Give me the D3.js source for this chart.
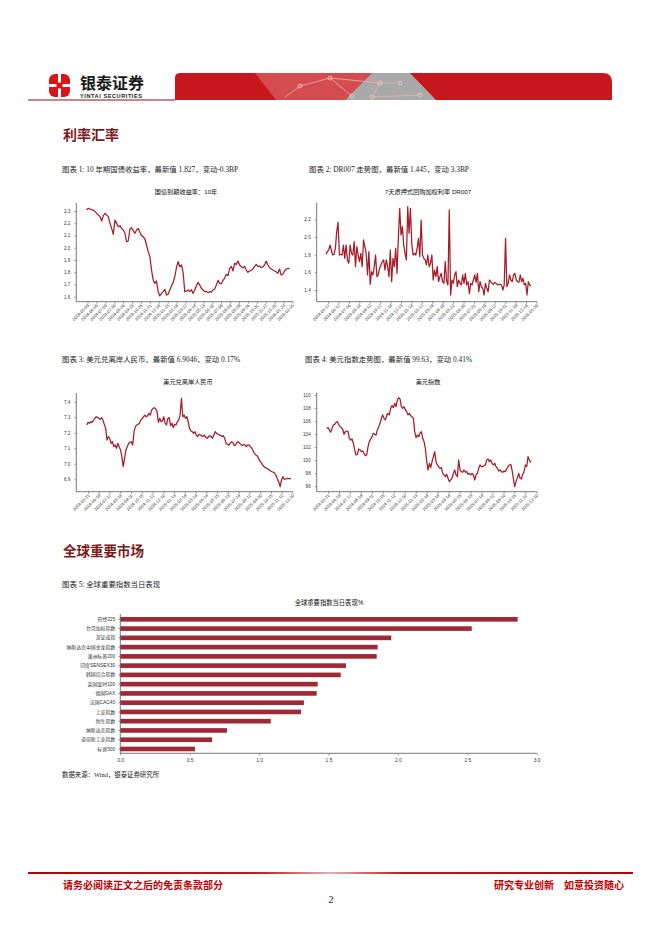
<!DOCTYPE html>
<html><head><meta charset="utf-8">
<script src="https://cdn.jsdelivr.net/npm/d3@7/dist/d3.min.js"></script>
<style>body{margin:0;background:#fff}svg{display:block}</style>
</head><body>
<svg id="page" width="662" height="936"></svg>
<script>
// ---------- DATA ----------
const bond10y = [2.308,2.322,2.316,2.311,2.308,2.295,2.281,2.267,2.254,2.218,
2.262,2.281,2.267,2.254,2.199,2.158,2.109,2.226,2.199,2.172,
2.180,2.158,2.145,2.118,2.049,2.055,2.153,2.164,2.137,2.118,
2.145,2.158,2.126,2.099,2.090,2.071,2.022,1.968,1.927,1.818,
1.736,1.709,1.728,1.641,1.606,1.627,1.641,1.660,1.614,1.619,
1.655,1.690,1.717,1.763,1.837,1.886,1.845,1.859,1.799,1.641,
1.646,1.655,1.641,1.657,1.627,1.655,1.690,1.717,1.695,1.668,
1.655,1.641,1.643,1.633,1.641,1.638,1.655,1.663,1.695,1.733,
1.709,1.706,1.733,1.750,1.783,1.772,1.832,1.848,1.810,1.872,
1.864,1.891,1.859,1.845,1.837,1.848,1.818,1.799,1.810,1.815,
1.826,1.848,1.864,1.845,1.851,1.837,1.845,1.859,1.891,1.859,
1.837,1.826,1.818,1.810,1.804,1.791,1.826,1.777,1.783,1.810,
1.826,1.832,1.827];
const bondDates = ["2024-05-09","2024-06-05","2024-07-03","2024-07-30","2024-08-26","2024-09-23","2024-10-25","2024-11-21","2024-12-18","2025-01-15","2025-02-18","2025-03-17","2025-04-14","2025-05-13","2025-06-10","2025-07-08","2025-08-04","2025-08-29","2025-09-26","2025-10-31","2025-11-27","2025-12-25","2026-01-23","2026-02-25"];
const bondTicks = [1.6,1.7,1.8,1.9,2.0,2.1,2.2,2.3];

const dr007 = [1.804,1.834,1.853,1.909,1.853,1.796,1.804,1.872,2.060,2.166,
1.796,1.804,1.796,1.909,1.758,1.909,1.740,1.702,1.909,1.815,
1.796,1.947,1.664,1.891,1.796,1.721,1.815,1.664,1.966,1.891,
1.815,1.570,1.834,1.464,1.608,1.570,1.664,1.796,1.551,1.570,
1.645,1.683,1.721,1.740,1.626,1.740,1.664,1.551,1.853,1.494,
1.758,1.664,1.872,1.589,1.985,2.325,2.023,2.117,1.909,1.815,
1.740,2.343,2.042,2.325,1.928,1.796,1.815,1.796,1.872,1.985,
1.777,2.192,1.796,1.758,1.740,1.683,1.796,1.664,1.702,1.796,
1.513,1.626,1.551,1.664,1.494,1.551,1.589,1.494,1.475,1.721,
1.502,1.457,2.306,1.343,1.513,1.475,1.570,1.608,1.438,1.513,
1.475,1.457,1.570,1.475,1.589,1.457,1.494,1.362,1.475,1.457,
1.513,1.570,1.487,1.589,1.381,1.494,1.438,1.419,1.343,1.475,
1.419,1.381,1.513,1.494,1.475,1.464,1.487,1.475,1.457,1.464,
1.464,1.457,1.400,1.457,1.985,1.438,1.475,1.570,1.513,1.494,
1.570,1.589,1.513,1.494,1.487,1.570,1.494,1.532,1.457,1.475,
1.343,1.494,1.457,1.445];
const drDates = ["2024-05-17","2024-06-17","2024-07-16","2024-08-14","2024-09-12","2024-10-17","2024-11-14","2024-12-13","2025-01-14","2025-02-17","2025-03-18","2025-04-18","2025-05-22","2025-06-20","2025-07-21","2025-08-19","2025-09-17","2025-10-21","2025-11-19","2025-12-18","2026-01-20"];
const drTicks = [1.4,1.6,1.8,2.0,2.2];

const usdcnh = [7.250,7.267,7.261,7.271,7.267,7.282,7.293,7.303,7.299,7.293,
7.286,7.297,7.282,7.254,7.228,7.153,7.175,7.164,7.132,7.142,
7.110,7.121,7.100,7.132,7.110,7.089,7.046,6.982,7.035,7.089,
7.110,7.132,7.138,7.142,7.121,7.207,7.239,7.250,7.254,7.261,
7.282,7.293,7.303,7.314,7.303,7.310,7.325,7.314,7.346,7.357,
7.361,7.353,7.336,7.267,7.293,7.271,7.276,7.303,7.261,7.250,
7.293,7.297,7.245,7.261,7.233,7.254,7.250,7.271,7.282,7.314,
7.421,7.303,7.314,7.293,7.303,7.271,7.228,7.211,7.207,7.196,
7.207,7.185,7.175,7.190,7.185,7.181,7.175,7.185,7.170,7.164,
7.175,7.181,7.175,7.164,7.185,7.207,7.196,7.190,7.185,7.185,
7.175,7.181,7.164,7.132,7.125,7.121,7.132,7.142,7.138,7.117,
7.121,7.138,7.142,7.132,7.125,7.117,7.125,7.121,7.110,7.121,
7.121,7.110,7.100,7.082,7.067,7.057,7.052,7.035,7.018,7.009,
6.992,6.982,6.975,6.971,6.967,6.960,6.954,6.949,6.945,6.939,
6.924,6.902,6.881,6.853,6.896,6.917,6.900,6.902,6.906,6.904,6.904,6.9046];
const cnhDates = ["2024-05-21","2024-06-19","2024-07-17","2024-08-14","2024-09-11","2024-10-15","2024-11-12","2024-12-10","2025-01-13","2025-02-14","2025-03-14","2025-04-14","2025-05-15","2025-06-13","2025-07-14","2025-08-12","2025-09-10","2025-10-15","2025-11-12","2025-12-10"];
const cnhTicks = [6.9,7.0,7.1,7.2,7.3,7.4];

const dxy = [104.89,104.99,104.64,104.28,104.89,105.40,105.50,105.81,105.91,105.50,
105.15,104.99,104.79,103.97,104.38,104.48,104.38,103.36,103.10,103.26,
102.59,101.57,100.80,100.91,101.72,101.57,101.31,101.42,101.06,100.70,
100.80,102.08,102.85,103.26,103.61,104.12,103.97,103.87,104.64,105.15,
105.66,106.42,106.94,106.42,106.17,106.83,107.19,106.94,107.96,108.37,
108.06,108.72,108.21,109.23,109.59,109.39,108.21,107.96,108.21,107.70,
107.45,106.94,107.19,106.83,106.68,106.42,104.38,103.46,103.87,103.61,
104.12,104.38,103.36,102.85,101.83,99.78,98.50,99.53,98.86,99.78,
100.55,101.31,99.78,99.27,99.01,98.76,98.86,97.99,97.74,97.48,
97.84,97.23,96.72,96.97,97.23,97.99,98.50,97.74,97.48,100.04,
98.50,98.25,98.15,98.50,98.15,98.25,97.84,97.99,97.74,97.99,
97.74,96.97,97.74,97.99,98.76,99.27,99.01,99.01,99.17,99.27,
100.04,100.19,99.78,100.04,99.53,99.27,99.53,99.01,98.76,98.35,
98.50,98.25,98.15,98.35,98.25,98.66,99.01,99.27,99.37,98.50,
97.23,95.95,96.72,97.33,97.99,97.23,97.12,97.84,98.25,99.27,
99.01,100.55,100.04,99.63];
const dxyDates = ["2024-05-21","2024-06-19","2024-07-17","2024-08-14","2024-09-11","2024-10-15","2024-11-12","2024-12-10","2025-01-13","2025-02-14","2025-03-14","2025-04-14","2025-05-15","2025-06-13","2025-07-14","2025-08-12","2025-09-10","2025-10-15","2025-11-12","2025-12-10"];
const dxyTicks = [96,98,100,102,104,106,108,110];

const indexNames = ["日经225","台湾加权指数","深证成指","纳斯达克中国金龙指数","澳洲标普200","印度SENSEX30","韩国综合指数","英国富时100","德国DAX","法国CAC40","上证指数","恒生指数","纳斯达克指数","道琼斯工业指数","标普500"];
const indexChange = [2.863,2.532,1.952,1.854,1.847,1.626,1.588,1.422,1.415,1.323,1.302,1.084,0.769,0.661,0.538];
const barTicks = [0,0.5,1.0,1.5,2.0,2.5,3.0];

// ---------- DRAW ----------
const svg = d3.select('#page');
const SANS = '"Liberation Sans","Noto Sans CJK SC",sans-serif';
const SERIF = '"Liberation Serif","Noto Sans CJK SC",serif';
const RED = '#a61c26';

const defs = svg.append('defs');
const fg = defs.append('linearGradient').attr('id','footg').attr('x1','0').attr('x2','1');
fg.append('stop').attr('offset','0').attr('stop-color','#b80000');
fg.append('stop').attr('offset','0.38').attr('stop-color','#c41818');
fg.append('stop').attr('offset','0.5').attr('stop-color','#e6b0b0');
fg.append('stop').attr('offset','0.62').attr('stop-color','#c41818');
fg.append('stop').attr('offset','1').attr('stop-color','#b80000');

// logo icon
const icon = svg.append('g');
icon.append('rect').attr('x',49).attr('y',74).attr('width',21).attr('height',23).attr('rx',6).attr('fill','#d9141b');
icon.append('rect').attr('x',58).attr('y',74).attr('width',3).attr('height',23).attr('fill','#fff');
icon.append('rect').attr('x',49).attr('y',84).attr('width',21).attr('height',3).attr('fill','#fff');
icon.append('rect').attr('x',56.5).attr('y',82.5).attr('width',6).attr('height',6).attr('fill','#d9141b');
svg.append('text').attr('x',80).attr('y',89).attr('font-family',SANS).attr('font-weight','bold').attr('font-size',16).attr('fill','#1a1a1a').text('银泰证券');
svg.append('text').attr('x',80).attr('y',97.5).attr('font-family',SANS).attr('font-weight','bold').attr('font-size',5.6).attr('fill','#1a1a1a').attr('textLength',62).text('YINTAI SECURITIES');
// banner
svg.append('path').attr('d','M175,100 L175,78 Q175,73 180,73 L603,73 Q612,73 612,82 L612,100 Z').attr('fill','#c8161d');
svg.append('path').attr('d','M255,73 L372,73 L345,100 L276,100 Z').attr('fill','#e07a7a').attr('opacity',0.55);
svg.append('path').attr('d','M372,73 L410,73 L436,100 L345,100 Z').attr('fill','#a9a9a9');
const net = [[300,86],[330,78],[352,96],[380,83],[400,83],[420,95],[372,97]];
svg.append('path').attr('d','M285,97 L300,86 L330,78 L352,96 M330,78 L380,83 L400,83 M380,83 L372,97 L420,95').attr('fill','none').attr('stroke','#eeb4b4').attr('stroke-width',0.8);
svg.selectAll('circle.net').data(net).join('circle').attr('class','net').attr('cx',d=>d[0]).attr('cy',d=>d[1]).attr('r',2).attr('fill','none').attr('stroke','#f0c8c8').attr('stroke-width',0.8);
svg.append('line').attr('x1',28).attr('x2',175).attr('y1',100).attr('y2',100).attr('stroke','#8b1414').attr('stroke-width',1.2);

// section titles
svg.append('text').attr('x',63).attr('y',140).attr('font-family',SANS).attr('font-weight','bold').attr('font-size',14).attr('fill','#7a1a1a').text('利率汇率');
svg.append('text').attr('x',63).attr('y',556).attr('font-family',SANS).attr('font-weight','bold').attr('font-size',13.5).attr('fill','#7a1a1a').text('全球重要市场');

// captions
function caption(x,y,t){svg.append('text').attr('x',x).attr('y',y).attr('font-family',SERIF).attr('font-size',7.4).attr('fill','#222').text(t);}
caption(62,172,'图表 1: 10 年期国债收益率，最新值 1.827，变动-0.3BP');
caption(309,172,'图表 2: DR007 走势图，最新值 1.445，变动 3.3BP');
caption(62,362,'图表 3: 美元兑离岸人民币，最新值 6.9046，变动 0.17%');
caption(305,362,'图表 4: 美元指数走势图，最新值 99.63，变动 0.41%');
caption(62,587,'图表 5: 全球重要指数当日表现');
svg.append('text').attr('x',62).attr('y',777).attr('font-family',SERIF).attr('font-size',6.4).attr('fill','#222').text('数据来源：Wind，银泰证券研究所');

function lineChart(o){
  const g = svg.append('g');
  const x = d3.scaleLinear().domain([0,o.values.length-1]).range([o.x0,o.x1]);
  const y = d3.scaleLinear().domain(o.yDomain).range(o.yRange);
  const xs = d3.scalePoint().domain(o.dates).range([o.t0,o.t1]);
  g.append('text').attr('x',o.titleX).attr('y',o.titleY).attr('text-anchor','middle').attr('font-family',SANS).attr('font-size',6.2).attr('fill','#111').text(o.title);
  const ya = g.append('g').attr('transform',`translate(${o.ax},0)`)
    .call(d3.axisLeft(y).tickValues(o.yTicks).tickSize(2).tickFormat(o.fmt));
  ya.select('.domain').remove();
  ya.selectAll('line').attr('stroke','#555').attr('stroke-width',0.6);
  ya.selectAll('text').attr('font-family',SANS).attr('font-size',4.6).attr('fill','#333').attr('dx',-1);
  const xa = g.append('g').attr('transform',`translate(0,${o.bottom})`)
    .call(d3.axisBottom(xs).tickSize(2));
  xa.select('.domain').remove();
  xa.selectAll('line').attr('stroke','#555').attr('stroke-width',0.6);
  xa.selectAll('text').attr('font-family',SANS).attr('font-size',4.3).attr('fill','#333')
    .attr('text-anchor','end').attr('dy',0).attr('y',0)
    .attr('transform','translate(1.5,4) rotate(-45)');
  g.append('line').attr('x1',o.ax).attr('x2',o.ax).attr('y1',o.top).attr('y2',o.bottom).attr('stroke','#555').attr('stroke-width',0.8);
  g.append('line').attr('x1',o.ax).attr('x2',o.axEnd).attr('y1',o.bottom).attr('y2',o.bottom).attr('stroke','#555').attr('stroke-width',0.8);
  g.append('path').datum(o.values).attr('fill','none').attr('stroke',RED).attr('stroke-width',1.25).attr('stroke-linejoin','round')
    .attr('d',d3.line().x((d,i)=>x(i)).y(d=>y(d)));
}

lineChart({values:bond10y,dates:bondDates,yTicks:bondTicks,fmt:d3.format('.1f'),
  x0:86.7,x1:289.5,yDomain:[1.6,2.3],yRange:[296.7,211],ax:76.3,top:203,bottom:301.7,axEnd:293,
  t0:87.5,t1:292.5,title:'国债到期收益率：10年',titleX:186,titleY:194});
lineChart({values:dr007,dates:drDates,yTicks:drTicks,fmt:d3.format('.1f'),
  x0:326,x1:531,yDomain:[1.4,2.2],yRange:[290,219.3],ax:316.7,top:202.7,bottom:301.7,axEnd:537,
  t0:328,t1:536.5,title:'7天质押式回购加权利率 DR007',titleX:428,titleY:194});
lineChart({values:usdcnh,dates:cnhDates,yTicks:cnhTicks,fmt:d3.format('.1f'),
  x0:86.7,x1:291,yDomain:[6.9,7.4],yRange:[479.3,401.7],ax:76.3,top:393,bottom:491.7,axEnd:293,
  t0:88,t1:292.5,title:'美元兑离岸人民币',titleX:188,titleY:384});
lineChart({values:dxy,dates:dxyDates,yTicks:dxyTicks,fmt:d3.format('d'),
  x0:326.7,x1:530.7,yDomain:[96,110],yRange:[486.3,395],ax:316.7,top:392.7,bottom:491.7,axEnd:537,
  t0:328,t1:536.5,title:'美元指数',titleX:428,titleY:384});

// bar chart
(function(){
  const g = svg.append('g');
  const x = d3.scaleLinear().domain([0,3]).range([120.3,536.7]);
  const y = d3.scaleBand().domain(indexNames).range([614.7,753.6]).paddingInner(0.5).paddingOuter(0.25);
  g.append('text').attr('x',329).attr('y',605).attr('text-anchor','middle').attr('font-family',SANS).attr('font-size',6.3).attr('fill','#111').text('全球重要指数当日表现%');
  g.selectAll('rect.bar').data(indexNames).join('rect').attr('class','bar')
    .attr('x',x(0)).attr('y',d=>y(d)).attr('height',y.bandwidth())
    .attr('width',(d,i)=>x(indexChange[i])-x(0)).attr('fill','#9f2a35');
  const ya = g.append('g').attr('transform',`translate(${x(0)},0)`).call(d3.axisLeft(y).tickSize(2));
  ya.select('.domain').remove();
  ya.selectAll('line').attr('stroke','#555').attr('stroke-width',0.6);
  ya.selectAll('text').attr('font-family',SANS).attr('font-size',4.9).attr('fill','#333');
  const xa = g.append('g').attr('transform','translate(0,753.3)').call(d3.axisBottom(x).tickValues(barTicks).tickSize(2).tickFormat(d3.format('.1f')));
  xa.select('.domain').remove();
  xa.selectAll('line').attr('stroke','#555').attr('stroke-width',0.6);
  xa.selectAll('text').attr('font-family',SANS).attr('font-size',4.9).attr('fill','#333');
  g.append('line').attr('x1',x(0)).attr('x2',x(0)).attr('y1',614).attr('y2',753.3).attr('stroke','#555').attr('stroke-width',0.8);
  g.append('line').attr('x1',x(0)).attr('x2',x(3)).attr('y1',753.3).attr('y2',753.3).attr('stroke','#555').attr('stroke-width',0.8);
})();

// footer
svg.append('rect').attr('x',28).attr('y',872).attr('width',605).attr('height',2).attr('fill','url(#footg)');
svg.append('text').attr('x',63).attr('y',889).attr('font-family',SERIF).attr('font-weight','bold').attr('font-size',10).attr('fill','#c00000').text('请务必阅读正文之后的免责条款部分');
svg.append('text').attr('x',624).attr('y',889).attr('text-anchor','end').attr('font-family',SERIF).attr('font-weight','bold').attr('font-size',10).attr('fill','#c00000').text('研究专业创新　如意投资随心');
svg.append('text').attr('x',331).attr('y',903).attr('text-anchor','middle').attr('font-family',SERIF).attr('font-size',10).attr('fill','#222').text('2');
</script>
</body></html>
